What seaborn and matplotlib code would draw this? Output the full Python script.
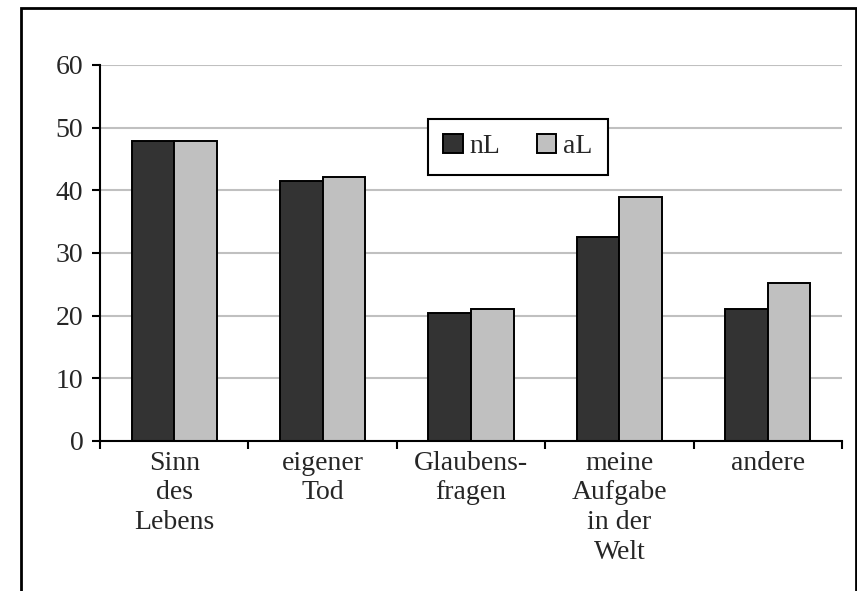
import pandas as pd
import seaborn as sns
import matplotlib.pyplot as plt
from matplotlib.patches import Patch, Rectangle

# values
categories = ["Sinn\ndes\nLebens", "eigener\nTod", "Glaubens-\nfragen",
              "meine\nAufgabe\nin der\nWelt", "andere"]
groups = ["nL", "aL"]
nl_values = [47.9, 41.5, 20.4, 32.6, 21.1]
al_values = [47.9, 42.1, 21.1, 39.0, 25.2]
colors = ["#333333", "#c0c0c0"]

# long format for seaborn
df = pd.DataFrame({
    "category": categories * 2,
    "group": ["nL"] * len(categories) + ["aL"] * len(categories),
    "value": nl_values + al_values,
})

sns.set_style("ticks")
plt.rcParams["font.family"] = ["Liberation Serif", "DejaVu Serif"]
plt.rcParams["font.size"] = 20

fig = plt.figure(figsize=(8.57, 5.91), dpi=100)
ax = fig.add_axes([100 / 857, 1 - 441 / 591, 742 / 857, 376 / 591])

sns.barplot(data=df, x="category", y="value", hue="group", order=categories,
            hue_order=groups, palette=colors, saturation=1, width=0.573, gap=0,
            edgecolor="black", linewidth=1.4, legend=False, ax=ax)

ax.set_xlim(-0.5, len(categories) - 0.5)
ax.set_ylim(0, 60)
ax.set_yticks(range(0, 61, 10))
ax.set_xlabel("")
ax.set_ylabel("")

# grid + axes styling
ax.yaxis.grid(True, color="#c0c0c0", linewidth=1.5)
ax.set_axisbelow(True)
for side in ["top", "right"]:
    ax.spines[side].set_visible(False)
for side in ["left", "bottom"]:
    ax.spines[side].set_color("black")
    ax.spines[side].set_linewidth(1.5)

ax.tick_params(axis="y", direction="out", length=6, width=1.5, pad=6,
               labelsize=20, color="black")
ax.set_xticks(range(len(categories)))
ax.set_xticklabels(categories, linespacing=1.25)
ax.tick_params(axis="x", which="major", length=0, pad=7, labelsize=20)
ax.set_xticks([i - 0.5 for i in range(len(categories) + 1)], minor=True)
ax.tick_params(axis="x", which="minor", direction="out", length=6, width=1.5,
               color="black")

# legend in a square box
handles = [Patch(facecolor=c, edgecolor="black", linewidth=1.4) for c in colors]
leg = ax.legend(handles, groups, ncol=2, loc="center",
                bbox_to_anchor=(518 / 857, 1 - 146.5 / 591),
                bbox_transform=fig.transFigure, frameon=True, fancybox=False,
                shadow=False, fontsize=20, handlelength=0.7, handleheight=0.7,
                handletextpad=0.25, columnspacing=1.3, borderpad=0.55)
leg.get_frame().set_edgecolor("black")
leg.get_frame().set_linewidth(1.5)
leg.get_frame().set_alpha(1)

# outer frame around the whole chart (bottom edge lies outside the image)
fig.patches.append(Rectangle((20.5 / 857, -0.05), 835 / 857, 1.05 - 8 / 591,
                             transform=fig.transFigure, fill=False,
                             edgecolor="black", linewidth=2))

fig.savefig("out.png", dpi=100)
